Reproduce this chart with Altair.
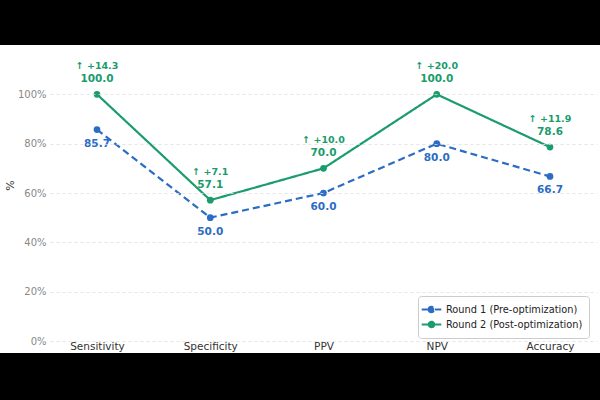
import altair as alt
import pandas as pd

metrics = ["Sensitivity", "Specificity", "PPV", "NPV", "Accuracy"]
round1 = [85.7, 50.0, 60.0, 80.0, 66.7]
round2 = [100.0, 57.1, 70.0, 100.0, 78.6]
series_names = ["Round 1 (Pre-optimization)", "Round 2 (Post-optimization)"]
y_ticks = [0, 20, 40, 60, 80, 100]

BLUE = "#2b6cc4"
GREEN = "#1a9c6c"
FONT = "DejaVu Sans"

rows = []
for m, a, b in zip(metrics, round1, round2):
    rows.append({"metric": m, "series": series_names[0], "value": a})
    rows.append({"metric": m, "series": series_names[1], "value": b})
df = pd.DataFrame(rows)

delta = pd.DataFrame({
    "metric": metrics,
    "value": round2,
    "label": [f"\u2191 +{b - a:.1f}" for a, b in zip(round1, round2)],
})

x_enc = alt.X("metric:N", sort=metrics,
              scale=alt.Scale(type="point", padding=0.415),
              axis=alt.Axis(title=None, labelAngle=0, ticks=False, domain=False,
                            grid=False, labelColor="#333333", labelFontSize=10.5,
                            labelPadding=0, labelFont=FONT, zindex=1))
y_enc = alt.Y("value:Q", scale=alt.Scale(domain=[0, 120], nice=False),
              axis=alt.Axis(values=y_ticks, labelExpr="datum.value + '%'",
                            title="%", titleFontWeight="normal", titleColor="#333333",
                            titleFontSize=11, titleX=-35, titleY=140, titleFont=FONT,
                            domain=False, ticks=False, labelColor="#888888",
                            labelFontSize=10, labelPadding=4, labelFont=FONT,
                            grid=True, gridColor="#dddddd", gridDash=[3, 3],
                            gridWidth=0.8, zindex=1))

color_scale = alt.Scale(domain=series_names, range=[BLUE, GREEN])
legend = alt.Legend(title=None, orient="none", legendX=368, legendY=251,
                    strokeColor="#cccccc", fillColor="white", padding=6,
                    cornerRadius=3, labelFontSize=9.8, labelColor="#222222",
                    labelFont=FONT, rowPadding=0, labelOffset=7,
                    symbolType="M-1.6,0L-0.55,0M0.55,0L1.6,0M-0.45,0A0.45,0.45 0 1,0 0.45,0A0.45,0.45 0 1,0 -0.45,0Z",
                    symbolSize=150, symbolStrokeWidth=2)

base = alt.Chart(df)

backdrop = alt.Chart(alt.Data(values=[{}])).mark_rect(color="white").encode(
    x=alt.value(-50), x2=alt.value(550), y=alt.value(0), y2=alt.value(308)
)

lines = base.mark_line(strokeWidth=2.2).encode(
    x=x_enc, y=y_enc,
    color=alt.Color("series:N", scale=color_scale, legend=legend),
    strokeDash=alt.StrokeDash("series:N",
                              scale=alt.Scale(domain=series_names, range=[[7, 4], [1, 0]]),
                              legend=legend),
)

points = base.mark_circle(size=45, opacity=1).encode(
    x=x_enc, y=y_enc,
    color=alt.Color("series:N", scale=color_scale, legend=legend),
)

pre_labels = base.transform_filter(
    alt.datum.series == series_names[0]
).mark_text(dy=14, fontWeight="bold", fontSize=10.5, font=FONT, color=BLUE).encode(
    x=x_enc, y=y_enc, text=alt.Text("value:Q", format=".1f")
)

post_labels = base.transform_filter(
    alt.datum.series == series_names[1]
).mark_text(dy=-15, fontWeight="bold", fontSize=10.5, font=FONT, color=GREEN).encode(
    x=x_enc, y=y_enc, text=alt.Text("value:Q", format=".1f")
)

delta_labels = alt.Chart(delta).mark_text(
    dy=-28, fontWeight="bold", fontSize=9.5, font=FONT, color=GREEN
).encode(x=x_enc, y=y_enc, text="label:N")

chart = alt.layer(
    backdrop, lines, points, pre_labels, post_labels, delta_labels
).properties(
    width=547, height=296,
    autosize=alt.AutoSizeParams(type="none"),
    padding={"left": 50, "top": 45, "right": 3, "bottom": 59},
    background="black",
).configure_view(stroke=None)

chart.save("out.html", embed_options={"renderer": "svg", "actions": False})
